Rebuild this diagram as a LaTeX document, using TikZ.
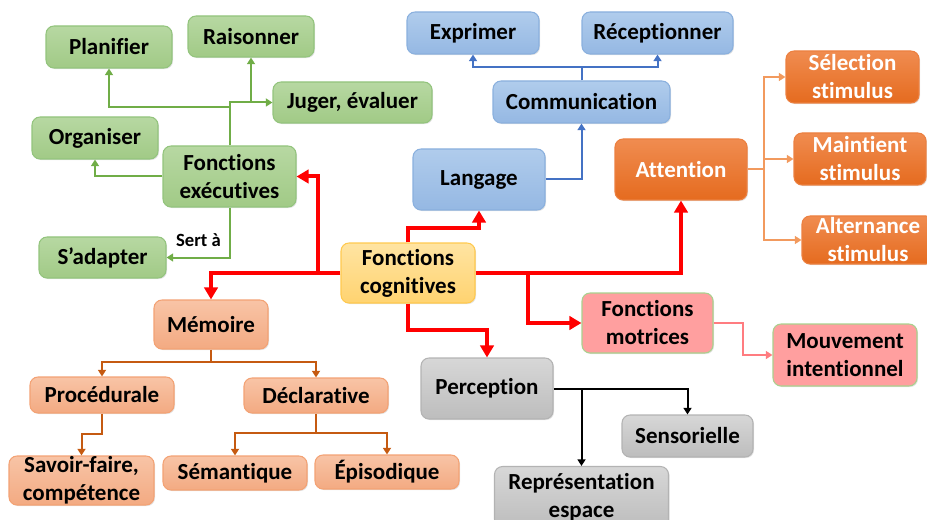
\documentclass[tikz,border=0pt]{standalone}
\usepackage{fontspec}
\setmainfont{Carlito}[RawFeature={-liga;-clig;-calt;-dlig;-rlig}]
\usetikzlibrary{arrows.meta,shadows,calc}
\definecolor{gline}{HTML}{70AD47}
\definecolor{bline}{HTML}{4472C4}
\definecolor{oline}{HTML}{F29A5E}
\definecolor{mline}{HTML}{C55A11}
\definecolor{pline}{HTML}{FF7C80}
\definecolor{rline}{HTML}{FF0000}
\definecolor{gtop}{HTML}{B7D8A2}
\definecolor{gbot}{HTML}{A1CA86}
\definecolor{gdraw}{HTML}{93C47D}
\definecolor{btop}{HTML}{B0CCEC}
\definecolor{bbot}{HTML}{95B8E3}
\definecolor{bdraw}{HTML}{8AB0DE}
\definecolor{otop}{HTML}{F08C50}
\definecolor{obot}{HTML}{E56B1F}
\definecolor{odraw}{HTML}{EC8040}
\definecolor{ytop}{HTML}{FFE4A2}
\definecolor{ybot}{HTML}{FFD370}
\definecolor{ydraw}{HTML}{FFC94E}
\definecolor{pfill}{HTML}{FF9F9F}
\definecolor{pdraw}{HTML}{A9D18E}
\definecolor{ktop}{HTML}{D7D7D7}
\definecolor{kbot}{HTML}{BDBDBD}
\definecolor{kdraw}{HTML}{B3B3B3}
\definecolor{stop}{HTML}{F8C4A6}
\definecolor{sbot}{HTML}{F3AA82}
\definecolor{sdraw}{HTML}{F3A274}
\tikzset{
  box/.style={rounded corners=6pt, inner sep=0pt, align=center, line width=0.8pt,
    font=\fontsize{17.25pt}{21pt}\selectfont\bfseries,
    drop shadow={shadow xshift=0.8pt, shadow yshift=-0.8pt, opacity=0.22}},
  gbox/.style={box, draw=gdraw, top color=gtop, bottom color=gbot},
  bbox/.style={box, draw=bdraw, top color=btop, bottom color=bbot},
  obox/.style={box, text=white, draw=odraw, top color=otop, bottom color=obot},
  ybox/.style={box, draw=ydraw, top color=ytop, bottom color=ybot},
  pbox/.style={box, draw=pdraw, fill=pfill},
  kbox/.style={box, draw=kdraw, top color=ktop, bottom color=kbot},
  sbox/.style={box, draw=sdraw, top color=stop, bottom color=sbot},
  lbl/.style={font=\fontsize{14pt}{16pt}\selectfont\bfseries, inner sep=0pt},
  tip/.style={-{Triangle[width=6pt,length=5pt]}},
  garrow/.style={line width=1.5pt, draw=gline, tip},
  barrow/.style={line width=1.5pt, draw=bline, tip},
  oarrow/.style={line width=1.5pt, draw=oline, tip},
  marrow/.style={line width=1.5pt, draw=mline, tip},
  parrow/.style={line width=1.5pt, draw=pline, tip},
  karrow/.style={line width=1.5pt, draw=black, tip},
  rarrow/.style={line width=3pt, draw=rline, -{Triangle[width=10pt,length=9pt]}},
}
\begin{document}
\begin{tikzpicture}[x=0.75pt,y=-0.75pt]
\useasboundingbox (0,0) rectangle (927,520);
\clip (0,0) rectangle (927,520);
% green
\node[gbox, minimum width=94.5pt, minimum height=31.5pt] (plan) at (109,47) {Planifier};
\node[gbox, minimum width=94.5pt, minimum height=30.75pt] (rais) at (251,36.5) {Raisonner};
\node[gbox, minimum width=119.25pt, minimum height=30.75pt] (jug) at (352.5,102.5) {Juger, évaluer};
\node[gbox, minimum width=94.5pt, minimum height=31.5pt] (org) at (95,138) {Organiser};
\node[gbox, minimum width=99.75pt, minimum height=45.75pt] (fe) at (229.5,176.5) {Fonctions\\exécutives};
\node[gbox, minimum width=95.25pt, minimum height=30.75pt] (adap) at (102.5,257.5) {S’adapter};
% blue
\node[bbox, minimum width=99pt, minimum height=31.5pt] (expr) at (473,33) {Exprimer};
\node[bbox, minimum width=113.25pt, minimum height=31.5pt] (recep) at (657.5,33) {Réceptionner};
\node[bbox, minimum width=132.75pt, minimum height=31.5pt] (comm) at (581.5,102) {Communication};
\node[bbox, minimum width=99pt, minimum height=45.75pt] (lang) at (479,179.5) {Langage};
% orange
\node[obox, minimum width=99pt, minimum height=45.75pt] (att) at (681,169.5) {Attention};
\node[obox, minimum width=99.75pt, minimum height=39pt] (sel) at (852.5,77) {Sélection\\stimulus};
\node[obox, minimum width=99pt, minimum height=39pt] (main) at (860,159) {Maintient\\stimulus};
\node[obox, minimum width=99pt, minimum height=36pt] (alt) at (868,240) {Alternance\\stimulus};
% centre
\node[ybox, minimum width=100.5pt, minimum height=45pt] (fc) at (408,273) {Fonctions\\cognitives};
% pink
\node[pbox, minimum width=98.25pt, minimum height=45pt] (fm) at (647.5,323) {Fonctions\\motrices};
\node[pbox, minimum width=108pt, minimum height=46.5pt] (mi) at (845,355) {Mouvement\\intentionnel};
% gray
\node[kbox, minimum width=99pt, minimum height=45.75pt] (perc) at (487,388.5) {Perception};
\node[kbox, minimum width=98.25pt, minimum height=31.5pt] (sens) at (687.5,436) {Sensorielle};
\node[kbox, minimum width=130.5pt, minimum height=45.75pt] (repr) at (581.5,497) {Représentation\\espace};
% salmon
\node[sbox, minimum width=85.5pt, minimum height=36.75pt] (mem) at (211,324.5) {Mémoire};
\node[sbox, minimum width=108pt, minimum height=27pt] (proc) at (102,395) {Procédurale};
\node[sbox, minimum width=108pt, minimum height=26.25pt] (decl) at (316,395.5) {Déclarative};
\node[sbox, minimum width=108.75pt, minimum height=36.75pt] (savoir) at (81.5,480.5) {Savoir-faire,\\compétence};
\node[sbox, minimum width=108pt, minimum height=25.5pt] (sem) at (235,473) {Sémantique};
\node[sbox, minimum width=108pt, minimum height=25.5pt] (epi) at (387,472) {Épisodique};
% green connectors
\coordinate (gj) at (229.5,107);
\draw[garrow] (fe.north) |- (jug.west);
\draw[garrow] (rais.south |- jug.west) -- (rais.south);
\draw[garrow] (gj) -| (plan.south);
\draw[garrow] (fe.west) -| (org.south);
\draw[garrow] (fe.south) |- (adap.east);
\node[lbl] (sert) at (198.5,240.5) {Sert à};
% blue connectors
\coordinate (bj) at (581.5,67);
\draw[line width=1.5pt, draw=bline] (comm.north) -- (bj);
\draw[barrow] (bj) -| (expr.south);
\draw[barrow] (bj) -| (recep.south);
\draw[barrow] (lang.east) -| (comm.south);
% orange connectors
\coordinate (oj) at (764,169.5);
\draw[line width=1.5pt, draw=oline] (att.east) -- (oj);
\draw[oarrow] (oj) |- (sel.west);
\draw[oarrow] (oj) |- (main.west);
\draw[oarrow] (oj) |- (alt.west);
% red connectors
\coordinate (rj1) at (318,273);
\coordinate (rj2) at (528,273);
\coordinate (rt) at (408,228);
\coordinate (rb) at (408,330);
\draw[rarrow] (fc.west) -| (mem.north);
\draw[rarrow] (rj1) |- (fe.east);
\draw[rarrow] (fc.north) -- (rt) -| (lang.south);
\draw[rarrow] (fc.east) -| (att.south);
\draw[rarrow] (rj2) |- (fm.west);
\draw[rarrow] (fc.south) -- (rb) -| (perc.north);
% pink connector
\coordinate (pj) at (743,323);
\draw[parrow] (fm.east) -- (pj) |- (mi.west);
% black connectors
\coordinate (kj) at (repr.north |- perc.east);
\draw[karrow] (perc.east) -| (sens.north);
\draw[karrow] (kj) -- (repr.north);
% brown connectors
\coordinate (mj) at (211,362);
\coordinate (pj2) at (102,434);
\coordinate (dj) at (316,433);
\draw[line width=1.5pt, draw=mline] (mem.south) -- (mj);
\draw[marrow] (mj) -| (proc.north);
\draw[marrow] (mj) -| (decl.north);
\draw[marrow] (proc.south) -- (pj2) -| (savoir.north);
\draw[line width=1.5pt, draw=mline] (decl.south) -- (dj);
\draw[marrow] (dj) -| (sem.north);
\draw[marrow] (dj) -| (epi.north);
\end{tikzpicture}
\end{document}
